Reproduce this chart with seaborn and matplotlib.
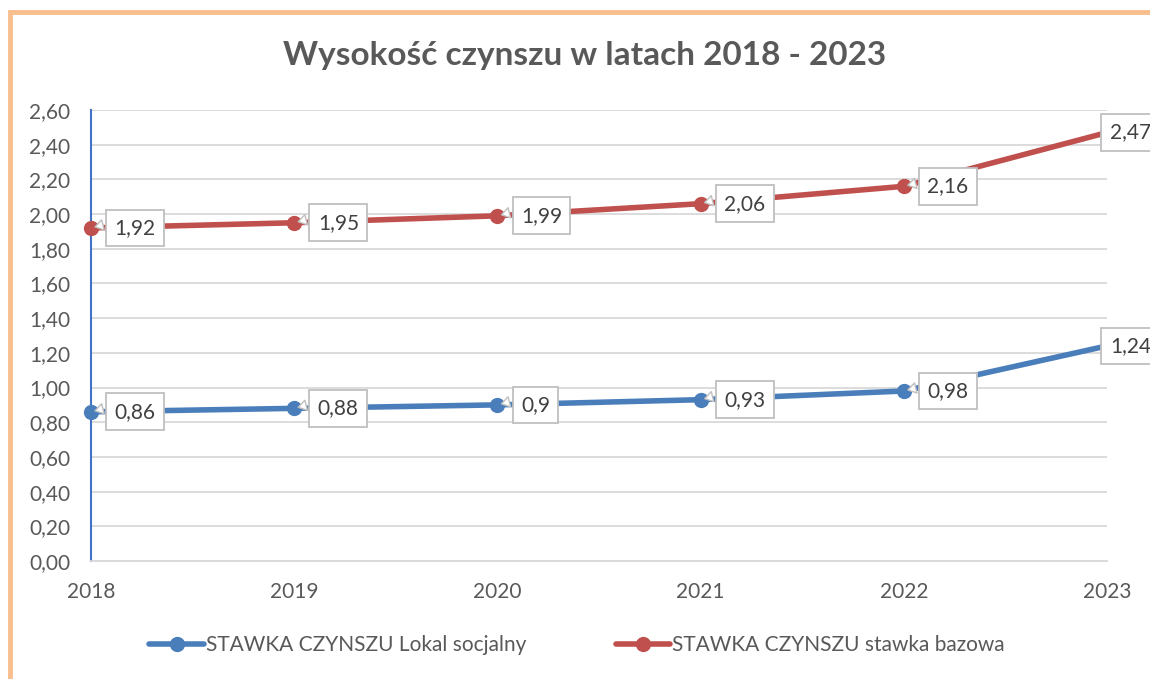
import pandas as pd
import numpy as np
import matplotlib.pyplot as plt
import seaborn as sns
from matplotlib.patches import Rectangle
from matplotlib.lines import Line2D

years = [2018, 2019, 2020, 2021, 2022, 2023]
lokal_socjalny = [0.86, 0.88, 0.90, 0.93, 0.98, 1.24]
stawka_bazowa = [1.92, 1.95, 1.99, 2.06, 2.16, 2.47]
series_names = ['STAWKA CZYNSZU Lokal socjalny', 'STAWKA CZYNSZU stawka bazowa']
y_ticks = [0.0, 0.2, 0.4, 0.6, 0.8, 1.0, 1.2, 1.4, 1.6, 1.8, 2.0, 2.2, 2.4, 2.6]
title = 'Wysokość czynszu w latach 2018 - 2023'

df = pd.DataFrame({
    'rok': years * 2,
    'wartosc': lokal_socjalny + stawka_bazowa,
    'seria': [series_names[0]] * len(years) + [series_names[1]] * len(years),
})

sns.set_style('white')
plt.rcParams['font.family'] = ['Lato', 'DejaVu Sans']

colors = {series_names[0]: '#4A7EBB', series_names[1]: '#C0504D'}

fig = plt.figure(figsize=(11.5, 6.79), dpi=100)
ax = fig.add_axes([91 / 1150, 1 - 561 / 679, (1107 - 91) / 1150, (561 - 110) / 679])

sns.lineplot(data=df, x='rok', y='wartosc', hue='seria', palette=colors, marker='o',
             markersize=11, markeredgewidth=0, linewidth=4, legend=False, ax=ax,
             clip_on=False, zorder=3)

ax.set_xlim(2018, 2023)
ax.set_ylim(0, 2.6)
ax.set_xticks(years)
ax.set_xticklabels([str(y) for y in years])
ax.set_yticks(y_ticks)
ax.set_yticklabels([f'{t:.2f}'.replace('.', ',') for t in y_ticks])
ax.tick_params(axis='both', length=0, labelsize=15, labelcolor='#595959', pad=15)
ax.set_xlabel('')
ax.set_ylabel('')
ax.yaxis.grid(True, color='#D9D9D9', linewidth=1.3)
ax.set_axisbelow(True)
for s in ['top', 'right']:
    ax.spines[s].set_visible(False)
ax.spines['left'].set_color('#4472C4')
ax.spines['left'].set_linewidth(1.5)
ax.spines['bottom'].set_color('#D9D9D9')
ax.spines['bottom'].set_linewidth(1.3)

# data labels with callouts
for vals in [lokal_socjalny, stawka_bazowa]:
    for i, (x, v) in enumerate(zip(years, vals)):
        dx = 2 if i == len(years) - 1 else 17
        ax.annotate(str(v).replace('.', ','), xy=(x, v), xytext=(dx, 0),
                    textcoords='offset points', ha='left', va='center',
                    fontsize=15, color='#404040', zorder=5, annotation_clip=False,
                    bbox=dict(boxstyle='square,pad=0.4', fc='white', ec='#BFBFBF', lw=1.3),
                    arrowprops=None if i == len(years) - 1 else
                    dict(arrowstyle='wedge,tail_width=0.5,shrink_factor=0.5',
                         fc='white', ec='#BFBFBF', lw=1.0, shrinkB=3, relpos=(0, 0.8)))

fig.text(585 / 1150, 1 - 55 / 679, title, ha='center', va='center', fontsize=24,
         fontweight='bold', color='#595959')

handles = [Line2D([0], [0], color=colors[n], lw=4, marker='o', markersize=11,
                  markeredgewidth=0) for n in series_names]
fig.legend(handles, series_names, loc='center', bbox_to_anchor=(577 / 1150, 1 - 645 / 679),
           ncol=2, frameon=False, fontsize=15, labelcolor='#595959',
           handlelength=2.6, handletextpad=0.1, columnspacing=4.3)

fig.add_artist(Rectangle((9.5 / 1150, -0.1), 1.2, 1.1 - 12.5 / 679,
                         transform=fig.transFigure, fill=False, ec='#F9BE8E', lw=3.5))

fig.savefig('out.png', dpi=100)
